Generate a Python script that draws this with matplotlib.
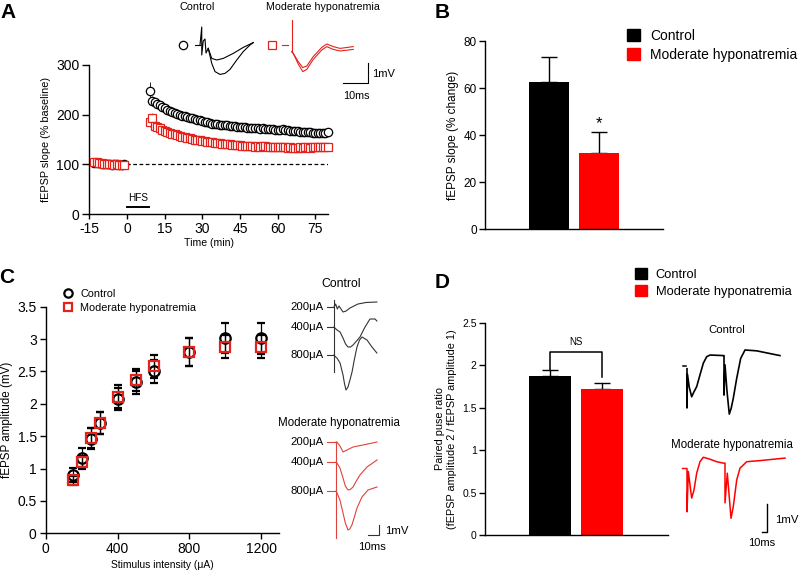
import numpy as np
import matplotlib
matplotlib.use("Agg")
import matplotlib.pyplot as plt
from matplotlib.lines import Line2D
from matplotlib.patches import Patch

plt.rcParams['font.family'] = ['Liberation Sans', 'DejaVu Sans']
plt.rcParams['axes.unicode_minus'] = False

W, H = 802, 575
RED = '#ff0000'
MRED = '#e3221c'
TRED = '#e0413a'

# ---------------- panel A : LTP time course ----------------
t_base = [-13, -12, -11, -10, -9, -8, -7, -6, -5, -4, -3, -2, -1]
ctrl_base = [103, 102, 102, 101, 100, 101, 100, 99, 100, 100, 99, 99, 100]
red_base = [105, 104, 103, 102, 101, 101, 100, 100, 99, 100, 99, 98, 99]
base_err = [4, 4, 3, 4, 3, 3, 4, 3, 3, 4, 3, 3, 3]

t_post = list(range(9, 81))
ctrl_post = [248, 228, 225, 222, 219, 216, 213, 210, 208, 206,
             203, 201, 200, 198, 197, 196, 194, 193, 192, 190,
             189, 188, 186, 185, 183, 182, 182, 181, 180, 180,
             179, 179, 178, 177, 177, 176, 176, 175, 175, 174,
             174, 173, 173, 173, 172, 174, 172, 171, 171, 171,
             170, 170, 170, 171, 169, 169, 168, 168, 167, 167,
             166, 166, 165, 165, 165, 164, 164, 164, 164, 164,
             164, 165]
ctrl_post_err = [18, 10, 9, 9, 9, 8, 8, 8, 8, 8,
                 8, 8, 8, 7, 7, 7, 7, 7, 7, 7,
                 7, 7, 7, 7, 7, 7, 7, 7, 7, 7,
                 7, 7, 7, 7, 7, 7, 7, 7, 7, 7,
                 7, 7, 7, 7, 7, 7, 7, 7, 7, 7,
                 7, 7, 7, 7, 7, 7, 7, 7, 7, 7,
                 7, 7, 7, 7, 7, 7, 7, 7, 7, 7,
                 7, 7]
red_post = [186, 193, 177, 175, 173, 170, 167, 165, 163, 162,
            161, 159, 158, 156, 155, 154, 153, 151, 150, 149,
            148, 147, 146, 145, 145, 144, 143, 143, 142, 141,
            141, 140, 140, 139, 139, 138, 138, 137, 137, 136,
            136, 136, 135, 136, 135, 137, 136, 135, 135, 135,
            134, 135, 134, 134, 134, 133, 134, 133, 133, 133,
            134, 133, 134, 134, 133, 134, 134, 134, 134, 134,
            134, 135]
red_post_err = [10, 10, 9, 9, 9, 9, 8, 8, 8, 8,
                8, 8, 8, 8, 8, 8, 8, 8, 8, 8,
                8, 8, 8, 8, 8, 8, 8, 8, 8, 8,
                8, 8, 8, 8, 8, 8, 8, 8, 8, 8,
                8, 8, 8, 8, 8, 8, 8, 8, 8, 8,
                8, 8, 8, 8, 8, 8, 8, 8, 8, 8,
                8, 8, 8, 8, 8, 8, 8, 8, 8, 8,
                8, 8]
hfs_on, hfs_off, hfs_level = 0, 8.6, 14

# ---------------- panel B / D : bars ----------------
groups = ['Control', 'Moderate hyponatremia']
b_vals = [62.4, 32.2]
b_err = [10.9, 9.2]
d_vals = [1.87, 1.72]
d_err = [0.07, 0.075]

# ---------------- panel C : input-output ----------------
stim = [150, 200, 250, 300, 400, 500, 600, 800, 1000, 1200]
c_ctrl = [0.90, 1.17, 1.46, 1.70, 2.07, 2.33, 2.50, 2.80, 3.02, 3.01]
c_ctrl_err = [0.11, 0.14, 0.16, 0.17, 0.17, 0.18, 0.18, 0.21, 0.23, 0.24]
c_red = [0.82, 1.10, 1.47, 1.70, 2.11, 2.37, 2.58, 2.80, 2.88, 2.88]
c_red_err = [0.07, 0.10, 0.16, 0.17, 0.18, 0.17, 0.18, 0.21, 0.18, 0.18]

# ---------------- example traces (ms, mV) ----------------
# panel A traces
a_art_t = [12.0, 12.7, 12.7, 13.3, 14.0, 14.4, 15.3]
a_art_v = [0.0, 0.9, -0.5, 0.2, 0.3, -0.4, -0.17]
a_small_t = [15.3, 16.7, 18.7, 21.3, 25.3, 29.3, 33.3]
a_small_v = [-0.17, -0.67, -0.75, -0.67, -0.42, -0.12, 0.12]
a_large_t = [15.3, 16.7, 18.0, 20.0, 22.0, 24.0, 26.7, 29.3, 32.0, 33.3]
a_large_v = [-0.17, -0.92, -1.33, -1.47, -1.42, -1.22, -0.75, -0.33, 0.0, 0.12]
a_red_t = [48.7, 49.3, 51.3, 53.1, 54.7, 57.3, 60.7, 62.7, 65.3, 68.0, 73.3]
a_red1_v = [-0.33, -0.42, -0.83, -1.13, -1.05, -0.58, -0.12, 0.05, -0.08, -0.17, -0.08]
a_red2_v = [-0.33, -0.42, -0.95, -1.33, -1.22, -0.72, -0.25, -0.08, -0.22, -0.30, -0.22]

# panel C traces (time from stimulus, mV from baseline)
c200_t = [0, 1.5, 3.0, 4.5, 8.2, 11.0, 14.5, 21.8, 29.0, 39.0]
c200_v = [0, 0.3, -0.2, 0.1, -0.5, -0.4, -0.1, 0.3, 0.45, 0.5]
c400_t = [0, 2.7, 5.5, 8.2, 10.5, 12.7, 15.0, 17.3, 20.5, 23.6, 28.2, 32.7, 37.3, 39.0]
c400_v = [0, -0.3, -0.5, -1.1, -1.7, -2.0, -2.0, -1.8, -1.4, -1.0, 0.0, 0.8, 0.8, 0.6]
c800_t = [0, 1.5, 2.7, 5.5, 8.2, 9.6, 10.9, 12.7, 14.5, 16.4, 18.6, 20.9, 23.2, 25.5, 30.0, 34.5, 39.0]
c800_v = [0, -0.2, -0.3, -0.8, -2.0, -2.9, -3.5, -3.2, -2.5, -1.7, -0.4, 0.8, 1.5, 1.8, 1.5, 0.8, 0.2]
r200_t = [0, 0.9, 3.6, 6.4, 10.0, 15.5, 24.5, 37.3]
r200_v = [0, 0, -0.4, -1.0, -0.8, -0.5, -0.3, 0.0]
r400_t = [0, 0.9, 3.6, 6.4, 8.5, 10.9, 13.0, 15.5, 18.5, 21.8, 28.2, 37.3]
r400_v = [0, -0.1, -0.6, -1.6, -2.4, -2.8, -2.75, -2.5, -1.9, -1.3, -0.5, 0.2]
r800_t = [0, 0.9, 3.6, 6.4, 8.5, 10.9, 12.5, 14.5, 17.0, 19.1, 23.6, 29.1, 37.3]
r800_v = [0, -0.2, -0.9, -2.2, -3.2, -3.9, -3.8, -3.4, -2.5, -1.7, -0.6, 0.1, 0.4]
c_levels = ['200\u03bcA', '400\u03bcA', '800\u03bcA']
c_ctrl_base = [-3.2, -5.2, -8.0]
c_red_base = [-16.7, -18.7, -21.6]

# panel D traces (paired pulse)
d_ctrl_t = [0, 0, 0.9, 4, 8.5, 12, 17.6, 23.6, 29.7, 35.8, 41.8, 55, 66, 67.3, 67.3, 69.1,
            72.7, 76.9, 80.5, 84.2, 90.4, 97.6, 105.5, 126.7, 169.1]
d_ctrl_v = [-0.1, -1.5, -0.3, -0.75, -1.1, -0.95, -0.74, -0.32, 0.1, 0.33, 0.39, 0.38, 0.37, 0.37,
            -1.04, 0.04, -0.9, -1.72, -1.5, -1.15, -0.44, 0.27, 0.57, 0.54, 0.37]
d_red_t = [0, 0, 2.4, 8.5, 12.7, 17.6, 23.6, 29.6, 41.8, 54, 66, 69.1, 69.1, 73.3, 80, 84.2,
           90.4, 96.4, 108.5, 132.7, 178.2]
d_red_v = [-0.04, -1.57, -0.13, -1.08, -0.79, -0.19, 0.22, 0.38, 0.31, 0.22, 0.17, 0.17, -1.25,
           -0.19, -1.8, -1.38, -0.43, -0.01, 0.22, 0.26, 0.35]
d_red_base = -3.64

fig = plt.figure(figsize=(W / 100, H / 100), dpi=100)


def px_axes(x0, y0, x1, y1):
    return fig.add_axes([x0 / W, 1 - y1 / H, (x1 - x0) / W, (y1 - y0) / H])


def clean(ax):
    ax.spines['top'].set_visible(False)
    ax.spines['right'].set_visible(False)
    ax.spines['left'].set_linewidth(1.0)
    ax.spines['bottom'].set_linewidth(1.0)


def scalebar(ax, x, y, dx, dy, col='k', lw=1.0):
    ax.plot([x - dx, x, x], [y, y, y + dy], color=col, lw=lw)


# ---- A ----
axA = px_axes(89.3, 65, 327.8, 214)
clean(axA)
axA.axhline(100, color='k', lw=0.9, ls=(0, (3, 2)))
axA.errorbar(t_base + t_post, ctrl_base + ctrl_post, yerr=base_err + ctrl_post_err,
             fmt='o', ms=6, mfc='white', mec='k', mew=0.9, ecolor='k', elinewidth=0.6,
             capsize=0, clip_on=False, zorder=3)
axA.errorbar(t_base + t_post, red_base + red_post, yerr=base_err + red_post_err,
             fmt='s', ms=5.5, mfc='white', mec=MRED, mew=0.9, ecolor=MRED, elinewidth=0.6,
             capsize=0, clip_on=False, zorder=4)
axA.plot([hfs_on, hfs_off], [hfs_level, hfs_level], color='k', lw=1.4)
axA.text((hfs_on + hfs_off) / 2, hfs_level + 9, 'HFS', ha='center', va='bottom', fontsize=7.2)
axA.set_xlim(-15, 80)
axA.set_ylim(0, 300)
axA.set_xticks([-15, 0, 15, 30, 45, 60, 75])
axA.set_yticks([0, 100, 200, 300])
axA.tick_params(axis='y', length=5, width=1, labelsize=10, pad=2)
axA.tick_params(axis='x', length=3.5, width=1, labelsize=10, pad=2)
axA.set_xlabel('Time (min)', fontsize=7.6, labelpad=2)
axA.set_ylabel('fEPSP slope (% baseline)', fontsize=7.8, labelpad=4)

# A traces
axTA = px_axes(170, 0, 400, 105)
axTA.set_xlim(0, 92)
axTA.set_ylim(-3, 2.25)
axTA.axis('off')
axTA.plot([5.1], [0], 'o', ms=6, mfc='white', mec='k', mew=0.9)
axTA.plot([10, 12], [0, 0], color='k', lw=0.8)
axTA.plot(a_art_t, a_art_v, color='k', lw=0.8)
axTA.plot(a_small_t, a_small_v, color='k', lw=0.8)
axTA.plot(a_large_t, a_large_v, color='k', lw=0.8)
axTA.plot([40.9], [0], 's', ms=6, mfc='white', mec=MRED, mew=0.9)
axTA.plot([44.7, 47.3], [0, 0], color=MRED, lw=0.8)
axTA.plot([48.7, 48.7], [1.25, -0.33], color=MRED, lw=0.8)
axTA.plot(a_red_t, a_red1_v, color=MRED, lw=0.8)
axTA.plot(a_red_t, a_red2_v, color=MRED, lw=0.8)
scalebar(axTA, 79.2, -1.9, 10, 1, lw=0.8)
axTA.text(80.8, -1.45, '1mV', fontsize=8, ha='left', va='center')
axTA.text(74.4, -2.55, '10ms', fontsize=7.8, ha='center', va='center')
axTA.text(10.8, 1.9, 'Control', fontsize=7.8, ha='center', va='center')
axTA.text(61.2, 1.9, 'Moderate hyponatremia', fontsize=7.7, ha='center', va='center')

# ---- B ----
axB = px_axes(485, 41, 663, 229)
clean(axB)
axB.bar([0, 1], b_vals, width=0.8, color=['k', RED], zorder=2)
axB.errorbar([0, 1], b_vals, yerr=[[0, 0], b_err], fmt='none', ecolor='k',
             elinewidth=1, capsize=5.5, capthick=1, zorder=1)
axB.text(1, b_vals[1] + b_err[1] + 3.5, '*', ha='center', va='center', fontsize=12)
axB.set_xlim(-1.28, 2.28)
axB.set_ylim(0, 80)
axB.set_xticks([])
axB.set_yticks([0, 20, 40, 60, 80])
axB.tick_params(axis='y', length=4, width=1, labelsize=8.5, pad=2)
axB.set_ylabel('fEPSP slope (% change)', fontsize=8.5, labelpad=3)

bar_handles = [Patch(color='k'), Patch(color=RED)]
fig.legend(bar_handles, groups, loc='upper left', bbox_to_anchor=(627 / W, 1 - 29 / H),
           bbox_transform=fig.transFigure, frameon=False, fontsize=10,
           handlelength=0.9, handleheight=0.9, handletextpad=0.75,
           labelspacing=0.33, borderpad=0, borderaxespad=0)

# ---- C ----
axC = px_axes(45.7, 306.7, 279.3, 533.3)
clean(axC)
axC.errorbar(stim, c_ctrl, yerr=c_ctrl_err, fmt='o', ms=7.5, mfc='none', mec='k', mew=1.6,
             ecolor='k', elinewidth=0.9, capsize=3, capthick=0.9, zorder=3)
axC.errorbar(stim, c_red, yerr=c_red_err, fmt='s', ms=6.5, mfc='none', mec=MRED, mew=1.6,
             ecolor='k', elinewidth=0.9, capsize=3, capthick=0.9, zorder=4)
axC.set_xlim(0, 1300)
axC.set_ylim(0, 3.5)
axC.set_xticks([0, 400, 800, 1200])
axC.set_yticks([0, 0.5, 1, 1.5, 2, 2.5, 3, 3.5])
axC.set_yticklabels(['0', '0.5', '1', '1.5', '2', '2.5', '3', '3.5'])
axC.tick_params(length=4.5, width=1, labelsize=10, pad=2)
axC.set_xlabel('Stimulus intensity (\u03bcA)', fontsize=7.4, labelpad=3)
axC.set_ylabel('fEPSP amplitude (mV)', fontsize=8.4, labelpad=3)
c_handles = [Line2D([], [], marker='o', ls='none', ms=6, mfc='none', mec='k', mew=1.6),
             Line2D([], [], marker='s', ls='none', ms=6, mfc='none', mec=MRED, mew=1.6)]
fig.legend(c_handles, groups, loc='upper left', bbox_to_anchor=(62.6 / W, 1 - 289 / H),
           bbox_transform=fig.transFigure, frameon=False, fontsize=7.8,
           handlelength=1.0, handletextpad=0.65, labelspacing=0.38,
           borderpad=0, borderaxespad=0)

# C traces
axTC = px_axes(280, 275, 400, 560)
axTC.set_xlim(-49.1, 60)
axTC.set_ylim(-28.5, 0)
axTC.axis('off')
ctrl_col = '#333333'
axTC.plot([0, 0], [-2.5, -9.7], color=ctrl_col, lw=0.8)
for lev, b, tt, vv in zip(c_levels, c_ctrl_base, [c200_t, c400_t, c800_t], [c200_v, c400_v, c800_v]):
    axTC.plot([-6.4, -0.9], [b, b], color=ctrl_col, lw=0.8)
    axTC.plot(tt, np.array(vv) + b, color=ctrl_col, lw=0.8)
    axTC.text(-9.5, b, lev, ha='right', va='center', fontsize=8.2)
axTC.plot([1.8, 1.8], [-16.7, -26.3], color=TRED, lw=0.8)
for lev, b, tt, vv in zip(c_levels, c_red_base, [r200_t, r400_t, r800_t], [r200_v, r400_v, r800_v]):
    axTC.plot([-6.4, 0.9], [b, b], color=TRED, lw=0.8)
    axTC.plot(np.array(tt) + 1.8, np.array(vv) + b, color=TRED, lw=0.8)
    axTC.text(-9.5, b, lev, ha='right', va='center', fontsize=8.2)
axTC.text(6.8, -0.9, 'Control', ha='center', va='center', fontsize=8.8)
axTC.text(4.5, -14.8, 'Moderate hyponatremia', ha='center', va='center', fontsize=8.3)
scalebar(axTC, 40.9, -26, 10, 1, col=ctrl_col, lw=0.8)
axTC.text(46.4, -25.6, '1mV', ha='left', va='center', fontsize=8.2)
axTC.text(34.5, -27.2, '10ms', ha='center', va='center', fontsize=8.2)

# ---- D ----
axD = px_axes(485, 323, 668, 535)
clean(axD)
axD.bar([0, 1], d_vals, width=0.8, color=['k', RED], zorder=2)
axD.errorbar([0, 1], d_vals, yerr=[[0, 0], d_err], fmt='none', ecolor='k',
             elinewidth=1, capsize=6, capthick=1, zorder=1)
br_y = 2.16
axD.plot([0, 0, 1, 1], [d_vals[0] + d_err[0], br_y, br_y, d_vals[1] + d_err[1] + 0.07],
         color='k', lw=1.1)
axD.text(0.5, br_y + 0.06, 'NS', ha='center', va='bottom', fontsize=7)
axD.set_xlim(-1.238, 2.248)
axD.set_ylim(0, 2.5)
axD.set_xticks([])
axD.set_yticks([0, 0.5, 1, 1.5, 2, 2.5])
axD.set_yticklabels(['0', '0.5', '1', '1.5', '2', '2.5'])
axD.tick_params(axis='y', length=4, width=1, labelsize=7.5, pad=2)
axD.set_ylabel('Paired puse ratio\n(fEPSP amplitude 2 / fEPSP amplitude 1)', fontsize=7.8,
               labelpad=4, linespacing=1.15)
fig.legend(bar_handles, groups, loc='upper left', bbox_to_anchor=(634.5 / W, 1 - 268 / H),
           bbox_transform=fig.transFigure, frameon=False, fontsize=9.3,
           handlelength=0.95, handleheight=0.95, handletextpad=0.7,
           labelspacing=0.3, borderpad=0, borderaxespad=0)

# D traces
axTD = px_axes(670, 315, 802, 560)
axTD.set_xlim(-30.9, 209.1)
axTD.set_ylim(-6.93, 1.82)
axTD.axis('off')
axTD.plot([-7.3, -1.2], [0, 0], color='k', lw=1.1)
axTD.plot(d_ctrl_t, d_ctrl_v, color='k', lw=1.2)
axTD.plot([-8.5, -2.4], [d_red_base, d_red_base], color=RED, lw=1.0)
axTD.plot(d_red_t, np.array(d_red_v) + d_red_base, color=RED, lw=1.1)
axTD.text(72.7, 1.29, 'Control', ha='center', va='center', fontsize=8.2)
axTD.text(81.8, -2.82, 'Moderate hyponatremia', ha='center', va='center', fontsize=8.3)
scalebar(axTD, 145.5, -5.93, 9.1, 1, lw=1.0)
axTD.text(160, -5.5, '1mV', ha='left', va='center', fontsize=8.2)
axTD.text(136.4, -6.32, '10ms', ha='center', va='center', fontsize=8)

# panel letters
for letter, (px, py) in zip('ABCD', [(8, 12), (442, 12), (7, 278), (442, 282)]):
    fig.text(px / W, 1 - py / H, letter, fontsize=15, fontweight='bold', ha='center', va='center')

fig.savefig('out.png', dpi=100)
